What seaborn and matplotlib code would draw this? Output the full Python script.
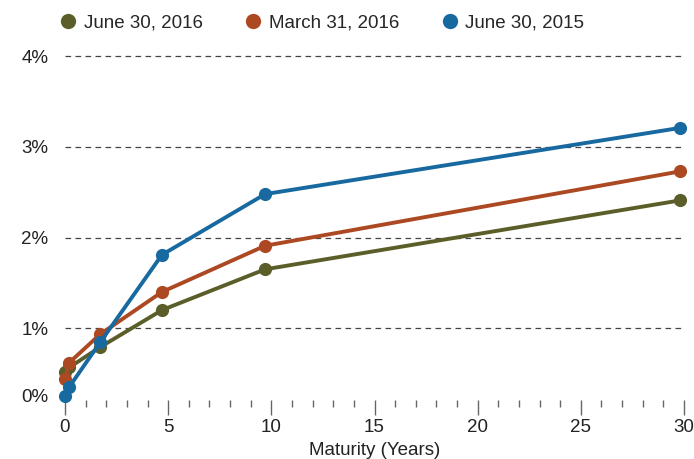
import numpy as np
import pandas as pd
import matplotlib
matplotlib.use("Agg")
import matplotlib.pyplot as plt
from matplotlib.lines import Line2D
from matplotlib.ticker import MultipleLocator, FixedLocator
import seaborn as sns

# maturities (years) as placed on the chart
maturity = [0, 0.2, 1.7, 4.7, 9.7, 29.8]
series_names = ["June 30, 2016", "March 31, 2016", "June 30, 2015"]
yield_jun16 = [0.35, 0.42, 0.72, 1.20, 1.65, 2.41]
yield_mar16 = [0.25, 0.49, 0.91, 1.40, 1.91, 2.73]
yield_jun15 = [0.00, 0.13, 0.79, 1.81, 2.48, 3.21]
colors = ["#5c5e29", "#ad4922", "#1769a0"]
y_ticks = [0, 1, 2, 3, 4]
y_labels = ["0%", "1%", "2%", "3%", "4%"]

df = pd.DataFrame({
    "Maturity": maturity * 3,
    "Yield": yield_jun16 + yield_mar16 + yield_jun15,
    "Date": sum([[n] * len(maturity) for n in series_names], []),
})

sns.set_style("white")
plt.rcParams["font.family"] = ["Liberation Sans", "DejaVu Sans"]
fs = 13.5

fig = plt.figure(figsize=(6.94, 4.59), dpi=100)
ax = fig.add_axes([65 / 694, 1 - 400 / 459, 619 / 694, 350 / 459])

# the 0-1% band is drawn shorter than the others on the original
k = 68 / 91
def fwd(y):
    y = np.asarray(y, dtype=float)
    return np.where(y < 1, 1 - (1 - y) * k, y)
def inv(u):
    u = np.asarray(u, dtype=float)
    return np.where(u < 1, 1 - (1 - u) / k, u)
ax.set_yscale("function", functions=(fwd, inv))

sns.lineplot(data=df, x="Maturity", y="Yield", hue="Date", hue_order=series_names,
             palette=colors, marker="o", markersize=9.5, markeredgewidth=0,
             linewidth=2.8, legend=False, ax=ax, clip_on=False, zorder=3)

ax.set_xlim(0, 30)
ax.set_ylim(-0.06, 4.07)
ax.yaxis.set_major_locator(FixedLocator(y_ticks))
ax.set_yticklabels(y_labels)
for yv in y_ticks[1:]:
    ax.axhline(yv, color="#444444", lw=0.9, ls=(0, (4.5, 3.5)), zorder=1)

ax.xaxis.set_major_locator(MultipleLocator(5))
ax.xaxis.set_minor_locator(MultipleLocator(1))
ax.tick_params(axis="x", which="major", length=11, width=1, color="#666666",
               labelsize=fs, pad=3, bottom=True, labelcolor="#222222")
ax.tick_params(axis="x", which="minor", length=5, width=1, color="#666666", bottom=True)
ax.tick_params(axis="y", length=0, labelsize=fs, pad=12, labelcolor="#222222")
ax.set_xlabel("Maturity (Years)", fontsize=fs, color="#222222", labelpad=4)
ax.set_ylabel("")
for s in ax.spines.values():
    s.set_visible(False)

handles = [Line2D([], [], marker="o", ls="none", color=c, markersize=11, markeredgewidth=0)
           for c in colors]
fig.legend(handles, series_names, loc="upper left", bbox_to_anchor=(42 / 694, 1.005),
           ncol=3, frameon=False, fontsize=fs, handletextpad=0.32,
           columnspacing=2.2, handlelength=1.0)

fig.savefig("out.png", dpi=100)
